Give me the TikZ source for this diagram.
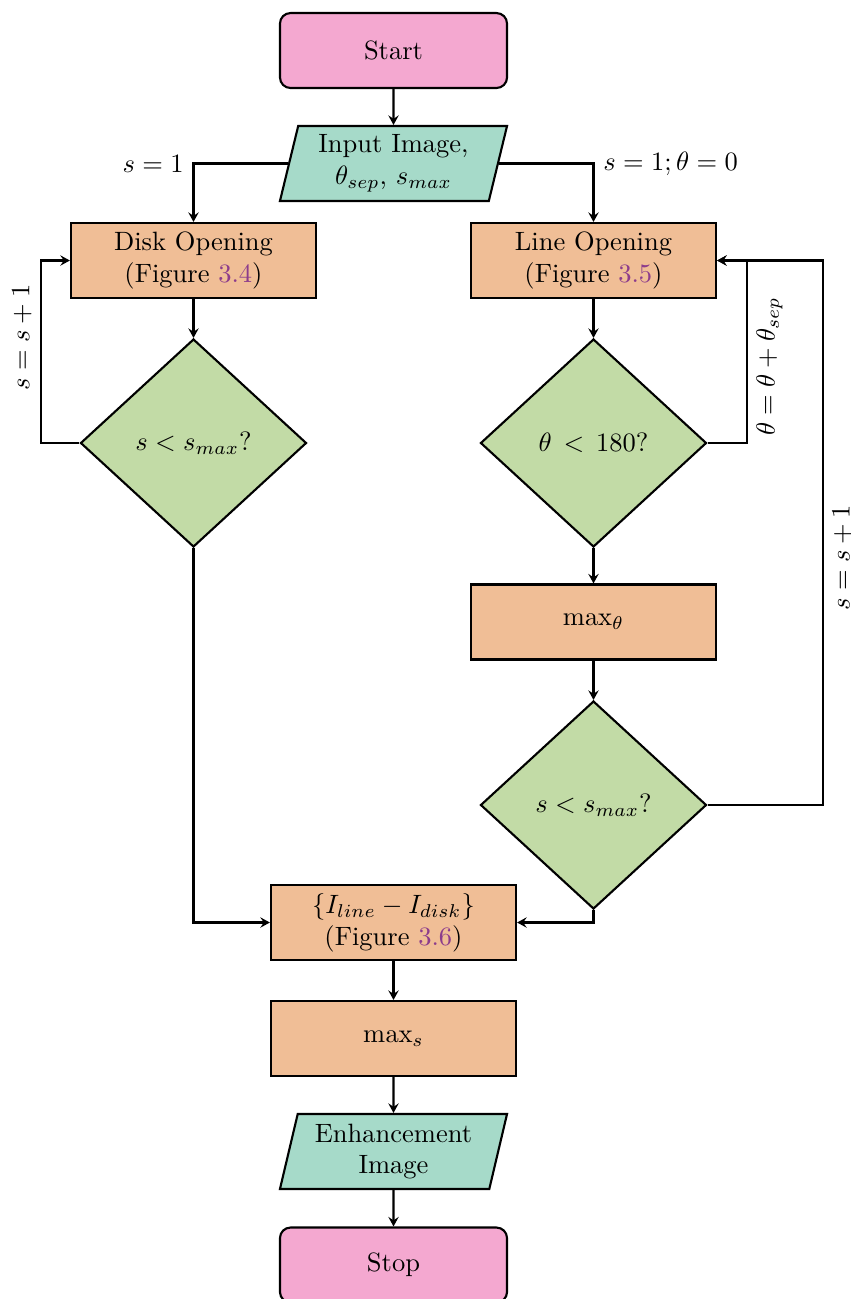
\documentclass[tikz,border=0pt]{standalone}
\usetikzlibrary{shapes.geometric,arrows.meta}
\definecolor{termc}{RGB}{244,168,208}
\definecolor{ioc}{RGB}{166,218,201}
\definecolor{procc}{RGB}{240,190,150}
\definecolor{decc}{RGB}{194,219,166}
\definecolor{linkc}{RGB}{140,60,140}
\newcommand{\figlink}[1]{\textcolor{linkc}{#1}}
\begin{document}
\begin{tikzpicture}[x=0.3774pt,y=-0.3774pt,
  base/.style={draw,thick,align=center,inner sep=2pt},
  terminal/.style={base,rectangle,rounded corners=4pt,fill=termc,
    minimum width=85.7pt,minimum height=28.3pt},
  io/.style={base,trapezium,trapezium left angle=75,trapezium right angle=105,
    trapezium stretches body,fill=ioc,minimum width=85.7pt,minimum height=28.3pt},
  process/.style={base,rectangle,fill=procc,minimum width=92.5pt,minimum height=28.3pt},
  decision/.style={base,diamond,fill=decc,minimum width=85.3pt,minimum height=78.5pt,inner sep=0pt},
  flow/.style={thick,-{Stealth[length=3.6pt,width=3.9pt,inset=1.3pt]}}]
  \useasboundingbox (0,0) rectangle (851,1299);

  % nodes
  \node[terminal] (start) at (393.5,50.5) {Start};
  \node[io] (input) at (393.5,163.5) {Input Image,\\$\theta_{sep}$, $s_{max}$};
  \node[process] (disk) at (193.5,260.5) {Disk Opening\\(Figure \figlink{3.4})};
  \node[process] (line) at (593.5,260.5) {Line Opening\\(Figure \figlink{3.5})};
  \node[decision] (dscale) at (193.5,443) {$s < s_{max}$?};
  \node[decision] (dangle) at (593.5,443) {$\theta\, <\, 180$?};
  \node[process] (maxth) at (593.5,622) {$\max_\theta$};
  \node[decision] (dlscale) at (593.5,805) {$s < s_{max}$?};
  \node[process] (diff) at (393.5,922.5) {$\{I_{line} - I_{disk}\}$\\(Figure \figlink{3.6})};
  \node[process] (maxs) at (393.5,1038.5) {$\max_s$};
  \node[io] (output) at (393.5,1151.5) {Enhancement\\Image};
  \node[terminal] (stop) at (393.5,1265) {Stop};

  % connectors
  \draw[flow] (start) -- (input);
  \draw[flow] (input.west) -| (disk.north) node[pos=0.5,left] {$s=1$};
  \draw[flow] (input.east) -| (line.north) node[pos=0.5,right] {$s=1;\theta=0$};
  \draw[flow] (disk) -- (dscale);
  \draw[flow] (dscale.west) -- ++(-38,0) |- (disk.west)
    node[pos=0.29,rotate=90,anchor=south] {$s=s+1$};
  \draw[flow] (line) -- (dangle);
  \draw[flow] (dangle.east) -- ++(39,0) |- (line.east)
    node[pos=0.21,rotate=90,anchor=north] {$\theta=\theta+\theta_{sep}$};
  \draw[flow] (dangle) -- (maxth);
  \draw[flow] (maxth) -- (dlscale);
  \draw[flow] (dlscale.east) -- ++(115,0) |- (line.east)
    node[pos=0.227,rotate=90,anchor=north] {$s=s+1$};
  \draw[flow] (dscale.south) |- (diff.west);
  \draw[flow] (dlscale.south) |- (diff.east);
  \draw[flow] (diff) -- (maxs);
  \draw[flow] (maxs) -- (output);
  \draw[flow] (output) -- (stop);
\end{tikzpicture}
\end{document}
